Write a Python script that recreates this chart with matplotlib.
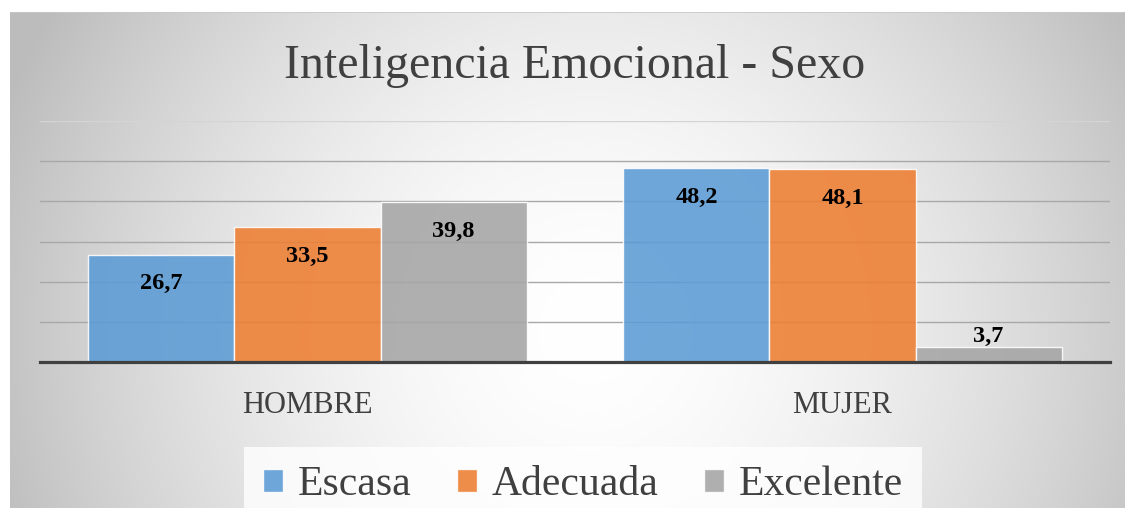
import numpy as np
import matplotlib
matplotlib.use("Agg")
import matplotlib.pyplot as plt
from matplotlib.patches import Patch

categories = ["HOMBRE", "MUJER"]
series_names = ["Escasa", "Adecuada", "Excelente"]
escasa = [26.7, 48.2]
adecuada = [33.5, 48.1]
excelente = [39.8, 3.7]
values = [escasa, adecuada, excelente]
colors = ["#5B9BD5", "#ED7D31", "#A5A5A5"]
title = "Inteligencia Emocional - Sexo"

W, H = 1125, 508
fig = plt.figure(figsize=(W / 100, H / 100), dpi=100)
fig.patch.set_facecolor("white")
serif = "Liberation Serif"

# Background radial gradient in chart area (x 10..1125, y 12..508 px)
x0, y0 = 10, 12
bg = fig.add_axes([x0 / W, 0, (W - x0) / W, (H - y0) / H])
bg.set_axis_off()
gw, gh = W - x0, H - y0
xx, yy = np.meshgrid(np.arange(gw) + x0, np.arange(gh) + y0)
cx, cy = 590, 330
r = np.sqrt((xx - cx) ** 2 + (yy - cy) ** 2)
val = 255 - 55 * (r / 560) ** 1.7
val = np.clip(val, 188, 255) / 255.0
img = np.dstack([val, val, val])
bg.imshow(img, aspect="auto", extent=[0, 1, 0, 1], origin="upper")
bg.set_xlim(0, 1)
bg.set_ylim(0, 1)
bg.plot([0, 1], [0.999, 0.999], color="#c8c8c8", lw=1.2)

# Main axes
ax = fig.add_axes([40 / W, 1 - 362 / H, 1070 / W, (362 - 121) / H])
ax.patch.set_alpha(0)
x = np.arange(len(categories))
bw = 0.273
for i, (name, vals, c) in enumerate(zip(series_names, values, colors)):
    pos = x + (i - 1) * bw
    bars = ax.bar(pos, vals, bw, color=c, alpha=0.88, edgecolor=(1, 1, 1, 0.6),
                  linewidth=1.0, zorder=3, label=name)
    for b, v in zip(bars, vals):
        lbl = f"{v:.1f}".replace(".", ",")
        if v > 10:
            ax.annotate(lbl, (b.get_x() + b.get_width() / 2, v), xytext=(0, -21),
                        textcoords="offset points", ha="center", va="center",
                        fontsize=17.5, fontweight="bold", family=serif, color="black", zorder=5)
        else:
            ax.annotate(lbl, (b.get_x() + b.get_width() / 2, v), xytext=(0, 0),
                        textcoords="offset points", ha="center", va="bottom",
                        fontsize=17.5, fontweight="bold", family=serif, color="black", zorder=5)

ax.set_xlim(-0.5, 1.5)
ax.set_ylim(0, 60)
grid_levels = [10, 20, 30, 40, 50]
for g in grid_levels:
    ax.axhline(g, color="#a8a8a8", lw=1.0, zorder=1)
ax.axhline(60, color="#d4d4d4", lw=1.0, zorder=1)
ax.set_yticks([])
ax.set_xticks(x)
ax.set_xticklabels(categories, fontsize=22, family=serif, color="#404040")
ax.tick_params(axis="x", length=0, pad=21)
for s in ["left", "right", "top"]:
    ax.spines[s].set_visible(False)
ax.spines["bottom"].set_color("#404040")
ax.spines["bottom"].set_linewidth(2.3)
ax.spines["bottom"].set_zorder(4)

fig.text(575 / W, 1 - 66 / H, title, ha="center", va="center", fontsize=34.5,
         family=serif, color="#404040")

handles = [Patch(facecolor=c, edgecolor=(1, 1, 1, 0.6), alpha=0.88, label=n)
           for c, n in zip(colors, series_names)]
leg = fig.legend(handles=handles, loc="upper center", bbox_to_anchor=(583 / W, 1 - 447 / H),
                 ncol=3, frameon=True, fancybox=False, prop={"family": serif, "size": 30},
                 handlelength=0.48, handleheight=0.48, handletextpad=0.35,
                 columnspacing=1.1, borderpad=0.45, borderaxespad=0,
                 labelcolor="#404040")
fr = leg.get_frame()
fr.set_facecolor((1, 1, 1, 0.5))
fr.set_edgecolor("none")

fig.savefig("out.png", dpi=100)
